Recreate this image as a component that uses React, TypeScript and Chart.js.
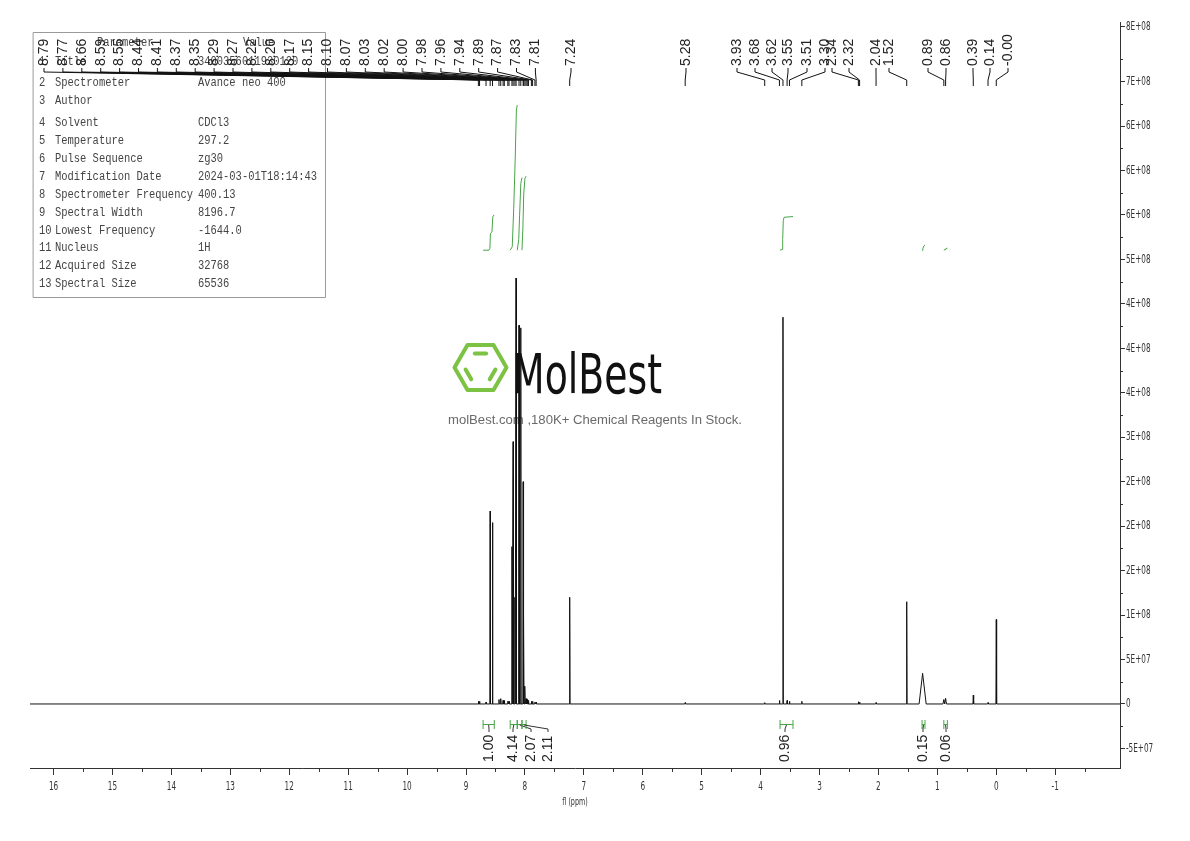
import React, { useEffect, useRef } from 'react';
import { Chart, registerables } from 'chart.js';
Chart.register(...registerables);

// ---------------- data ----------------
const ppmMin = -2.1;
const ppmMax = 16.4;
const xTickValues = [16, 15, 14, 13, 12, 11, 10, 9, 8, 7, 6, 5, 4, 3, 2, 1, 0, -1];
const xTickLabels = ['16', '15', '14', '13', '12', '11', '10', '9', '8', '7', '6', '5', '4', '3', '2', '1', '0', '-1'];
const xMinorTicks = [15.5, 14.5, 13.5, 12.5, 11.5, 10.5, 9.5, 8.5, 7.5, 6.5, 5.5, 4.5, 3.5, 2.5, 1.5, 0.5, -0.5, -1.5];
const xTitle = 'fl (ppm)';

const yMin = -7.2e7;
const yMax = 7.67e8;
const yTickValues = [-5e7, 0, 5e7, 1e8, 1.5e8, 2e8, 2.5e8, 3e8, 3.5e8, 4e8, 4.5e8, 5e8, 5.5e8, 6e8, 6.5e8, 7e8, 7.62e8];
const yTickLabels = ['-5E+07', '0', '5E+07', '1E+08', '2E+08', '2E+08', '2E+08', '3E+08', '4E+08', '4E+08', '4E+08', '5E+08', '6E+08', '6E+08', '6E+08', '7E+08', '8E+08'];
const yMinorTicks = [-2.5e7, 2.5e7, 7.5e7, 1.25e8, 1.75e8, 2.25e8, 2.75e8, 3.25e8, 3.75e8, 4.25e8, 4.75e8, 5.25e8, 5.75e8, 6.25e8, 6.75e8, 7.25e8];

// spectrum peaks (ppm, intensity, half width in ppm)
const peakPpm = [8.79, 8.77, 8.66, 8.59, 8.55, 8.44, 8.41, 8.37, 8.35, 8.29, 8.27, 8.22, 8.20, 8.17, 8.15, 8.10, 8.07, 8.03, 8.02, 8.00, 7.98, 7.96, 7.94, 7.89, 7.87, 7.83, 7.81, 7.24, 5.28, 3.93, 3.68, 3.62, 3.55, 3.51, 3.30, 2.34, 2.32, 2.04, 1.52, 1.25, 0.89, 0.86, 0.39, 0.14, 0.00];
const peakHeight = [3e6, 3e6, 2e6, 2.17e8, 2.04e8, 5e6, 6e6, 4e6, 4e6, 3e6, 3e6, 1.77e8, 2.95e8, 1.2e8, 4.79e8, 4.26e8, 4.23e8, 2.5e8, 1.0e8, 2.0e7, 6e6, 5e6, 4e6, 3e6, 3e6, 2e6, 2e6, 1.2e8, 1.5e6, 1.5e6, 4e6, 4.35e8, 4e6, 3e6, 3e6, 2.5e6, 2e6, 1.5e6, 1.15e8, 3.45e7, 5e6, 6.4e6, 1.0e7, 1.5e6, 9.5e7];
const peakHalfWidth = [0.005, 0.005, 0.005, 0.005, 0.005, 0.005, 0.005, 0.005, 0.005, 0.005, 0.005, 0.005, 0.005, 0.005, 0.005, 0.005, 0.005, 0.005, 0.005, 0.005, 0.005, 0.005, 0.005, 0.005, 0.005, 0.005, 0.005, 0.006, 0.006, 0.006, 0.006, 0.006, 0.006, 0.006, 0.006, 0.006, 0.006, 0.006, 0.006, 0.06, 0.015, 0.015, 0.006, 0.006, 0.006];

// peak labels
const peakLabels = ['8.79', '8.77', '8.66', '8.59', '8.55', '8.44', '8.41', '8.37', '8.35', '8.29', '8.27', '8.22', '8.20', '8.17', '8.15', '8.10', '8.07', '8.03', '8.02', '8.00', '7.98', '7.96', '7.94', '7.89', '7.87', '7.83', '7.81', '7.24', '5.28', '3.93', '3.68', '3.62', '3.55', '3.51', '3.30', '2.34', '2.32', '2.04', '1.52', '0.89', '0.86', '0.39', '0.14', '-0.00'];
const peakLabelPpm = [8.79, 8.77, 8.66, 8.59, 8.55, 8.44, 8.41, 8.37, 8.35, 8.29, 8.27, 8.22, 8.20, 8.17, 8.15, 8.10, 8.07, 8.03, 8.02, 8.00, 7.98, 7.96, 7.94, 7.89, 7.87, 7.83, 7.81, 7.24, 5.28, 3.93, 3.68, 3.62, 3.55, 3.51, 3.30, 2.34, 2.32, 2.04, 1.52, 0.89, 0.86, 0.39, 0.14, 0.00];

// integrals
const integralLabels = ['1.00', '4.14', '2.07', '2.11', '0.96', '0.15', '0.06'];
const integralFrom = [8.71, 8.25, 8.13, 8.05, 3.67, 1.26, 0.89];
const integralTo = [8.52, 8.13, 8.05, 7.98, 3.45, 1.21, 0.83];
const integralCurvePpm = [
  [8.71, 8.61, 8.595, 8.585, 8.56, 8.545, 8.53, 8.52],
  [8.25, 8.215, 8.19, 8.165, 8.145, 8.13],
  [8.13, 8.105, 8.09, 8.07, 8.05],
  [8.05, 8.035, 8.02, 8.0, 7.98],
  [3.67, 3.635, 3.625, 3.615, 3.6, 3.45],
  [1.26, 1.245, 1.23, 1.21],
  [0.89, 0.87, 0.855, 0.83],
];
const integralCurveVal = [
  [0, 0, 0.05, 0.48, 0.52, 0.95, 1.0, 1.0],
  [0, 0.1, 1.2, 2.6, 4.0, 4.14],
  [0, 0.3, 1.0, 1.9, 2.07],
  [0, 0.6, 1.6, 2.05, 2.11],
  [0, 0.02, 0.3, 0.85, 0.94, 0.96],
  [0, 0.05, 0.12, 0.15],
  [0, 0.02, 0.045, 0.06],
];

// parameter table
const paramHeader = ['Parameter', 'Value'];
const paramNumbers = ['1', '2', '3', '4', '5', '6', '7', '8', '9', '10', '11', '12', '13'];
const paramNames = ['Title', 'Spectrometer', 'Author', 'Solvent', 'Temperature', 'Pulse Sequence', 'Modification Date', 'Spectrometer Frequency', 'Spectral Width', 'Lowest Frequency', 'Nucleus', 'Acquired Size', 'Spectral Size'];
const paramValues = ['3400356011930120', 'Avance neo 400', '', 'CDCl3', '297.2', 'zg30', '2024-03-01T18:14:43', '400.13', '8196.7', '-1644.0', '1H', '32768', '65536'];

const watermarkTitle = 'MolBest';
const watermarkSubtitle = 'molBest.com ,180K+ Chemical Reagents In Stock.';

// ---------------- layout (pixels) ----------------
const peakLabelX = [44, 62.9, 81.8, 100.7, 119.6, 138.5, 157.4, 176.3, 195.2, 214.1, 233, 251.9, 270.8, 289.7, 308.6, 327.5, 346.4, 365.3, 384.2, 403.1, 422, 440.9, 459.8, 478.7, 497.6, 516.5, 535.4, 571, 686, 737, 755, 772, 788, 807, 825, 832, 849, 876, 889, 928, 946, 973, 990, 1008];
const integralLabelX = [489, 513, 531, 548, 785, 923, 946];
const tableRowY = [62, 83, 101, 123, 141, 159, 177, 195, 213, 231, 248, 266, 284];

const SANS = "'DejaVu Sans', sans-serif";
const GREEN = '#47a447';
const AXIS = '#333';

function buildSpectrum() {
  const pts: { x: number; y: number }[] = [{ x: ppmMax, y: 0 }];
  for (let i = 0; i < peakPpm.length; i++) {
    pts.push({ x: peakPpm[i] + peakHalfWidth[i], y: 0 });
    pts.push({ x: peakPpm[i], y: peakHeight[i] });
    pts.push({ x: peakPpm[i] - peakHalfWidth[i], y: 0 });
  }
  pts.push({ x: ppmMin, y: 0 });
  return pts;
}

function drawScaledText(ctx: CanvasRenderingContext2D, text: string, x: number, y: number, sx: number) {
  ctx.save();
  ctx.translate(x, y);
  ctx.scale(sx, 1);
  ctx.fillText(text, 0, 0);
  ctx.restore();
}

const annotPlugin = {
  id: 'annot',
  beforeDatasetsDraw(chart: any) {
    const ctx: CanvasRenderingContext2D = chart.ctx;
    ctx.save();
    // ---- watermark ----
    const cx = 480.5, cy = 367.5, r = 26, h = 22.5;
    const hex = [[cx - r, cy], [cx - r / 2, cy - h], [cx + r / 2, cy - h], [cx + r, cy], [cx + r / 2, cy + h], [cx - r / 2, cy + h]];
    ctx.strokeStyle = '#7cc243';
    ctx.lineWidth = 4;
    ctx.lineJoin = 'round';
    ctx.lineCap = 'round';
    ctx.beginPath();
    hex.forEach((p, i) => (i === 0 ? ctx.moveTo(p[0], p[1]) : ctx.lineTo(p[0], p[1])));
    ctx.closePath();
    ctx.stroke();
    const inner = [[1, 2], [3, 4], [5, 0]];
    inner.forEach(([a, b]) => {
      const f = 0.62;
      const ax = cx + (hex[a][0] - cx) * f, ay = cy + (hex[a][1] - cy) * f;
      const bx = cx + (hex[b][0] - cx) * f, by = cy + (hex[b][1] - cy) * f;
      const s = 0.15;
      ctx.beginPath();
      ctx.moveTo(ax + (bx - ax) * s, ay + (by - ay) * s);
      ctx.lineTo(bx - (bx - ax) * s, by - (by - ay) * s);
      ctx.stroke();
    });
    ctx.fillStyle = '#111';
    ctx.font = `56px ${SANS}`;
    ctx.textBaseline = 'alphabetic';
    ctx.textAlign = 'left';
    const mw = ctx.measureText(watermarkTitle).width;
    drawScaledText(ctx, watermarkTitle, 512, 393, 150 / mw);
    ctx.fillStyle = '#6a6a6a';
    ctx.font = "12px 'Liberation Sans', Arial, sans-serif";
    ctx.textBaseline = 'middle';
    const sw = ctx.measureText(watermarkSubtitle).width;
    drawScaledText(ctx, watermarkSubtitle, 448, 421, 294 / sw);

    // ---- parameter table ----
    ctx.strokeStyle = '#9a9a9a';
    ctx.lineWidth = 1;
    ctx.strokeRect(33.5, 32.5, 292, 265);
    ctx.fillStyle = '#444';
    ctx.font = "12px 'Liberation Mono', monospace";
    ctx.textBaseline = 'middle';
    const sx = 6.27 / ctx.measureText('M').width;
    drawScaledText(ctx, paramHeader[0], 97, 43, sx);
    drawScaledText(ctx, paramHeader[1], 243, 43, sx);
    for (let i = 0; i < paramNames.length; i++) {
      const y = tableRowY[i];
      drawScaledText(ctx, paramNumbers[i], 39, y, sx);
      drawScaledText(ctx, paramNames[i], 55, y, sx);
      drawScaledText(ctx, paramValues[i], 198, y, sx);
    }
    ctx.restore();
  },
  afterDraw(chart: any) {
    const ctx: CanvasRenderingContext2D = chart.ctx;
    const xs = chart.scales.x;
    const ys = chart.scales.y;
    const ca = chart.chartArea;
    ctx.save();
    // minor ticks
    ctx.strokeStyle = AXIS;
    ctx.lineWidth = 1;
    ctx.beginPath();
    xMinorTicks.forEach((v) => {
      const px = Math.round(xs.getPixelForValue(v)) + 0.5;
      ctx.moveTo(px, ca.bottom);
      ctx.lineTo(px, ca.bottom + 4);
    });
    yMinorTicks.forEach((v) => {
      const py = Math.round(ys.getPixelForValue(v)) + 0.5;
      ctx.moveTo(ca.right, py);
      ctx.lineTo(ca.right + 3, py);
    });
    ctx.stroke();

    // axis tick labels (condensed)
    ctx.fillStyle = AXIS;
    ctx.font = `13px ${SANS}`;
    ctx.textBaseline = 'middle';
    ctx.textAlign = 'left';
    xs.ticks.forEach((t: any) => {
      const i = xTickValues.indexOf(t.value);
      if (i < 0) return;
      const px = xs.getPixelForValue(t.value);
      const w = ctx.measureText(xTickLabels[i]).width * 0.56;
      drawScaledText(ctx, xTickLabels[i], px - w / 2, ca.bottom + 19, 0.56);
    });
    ctx.font = `12.5px ${SANS}`;
    ys.ticks.forEach((t: any) => {
      const i = yTickValues.indexOf(t.value);
      if (i < 0) return;
      const py = ys.getPixelForValue(t.value);
      drawScaledText(ctx, yTickLabels[i], ca.right + 6, py, 0.58);
    });
    ctx.font = `11px ${SANS}`;
    const tw = ctx.measureText(xTitle).width * 0.58;
    drawScaledText(ctx, xTitle, (ca.left + ca.right) / 2 - tw / 2, ca.bottom + 34, 0.58);

    // peak labels
    ctx.font = "14px 'Liberation Sans', Arial, sans-serif";
    ctx.fillStyle = '#222';
    ctx.textBaseline = 'middle';
    ctx.textAlign = 'left';
    ctx.strokeStyle = '#111';
    for (let i = 0; i < peakLabels.length; i++) {
      const lx = peakLabelX[i];
      const px = xs.getPixelForValue(peakLabelPpm[i]);
      ctx.save();
      ctx.translate(lx, 66);
      ctx.rotate(-Math.PI / 2);
      ctx.fillText(peakLabels[i], 0, 0);
      ctx.restore();
      ctx.beginPath();
      ctx.moveTo(lx, 68);
      ctx.lineTo(lx, 72);
      ctx.lineTo(px, 80);
      ctx.lineTo(px, 86);
      ctx.stroke();
    }

    // integral labels
    for (let i = 0; i < integralLabels.length; i++) {
      const a = xs.getPixelForValue(integralFrom[i]);
      const b = xs.getPixelForValue(integralTo[i]);
      const m = (a + b) / 2;
      const lx = integralLabelX[i];
      ctx.strokeStyle = GREEN;
      ctx.beginPath();
      ctx.moveTo(a, 724.5);
      ctx.lineTo(b, 724.5);
      ctx.moveTo(a, 720);
      ctx.lineTo(a, 729);
      ctx.moveTo(b, 720);
      ctx.lineTo(b, 729);
      ctx.stroke();
      ctx.strokeStyle = '#333';
      ctx.beginPath();
      ctx.moveTo(m, 725);
      ctx.lineTo(lx, 729);
      ctx.lineTo(lx, 732);
      ctx.stroke();
      ctx.fillStyle = '#222';
      ctx.save();
      ctx.translate(lx, 762);
      ctx.rotate(-Math.PI / 2);
      ctx.fillText(integralLabels[i], 0, 0);
      ctx.restore();
    }
    ctx.restore();
  },
};

export default function App() {
  const ref = useRef<HTMLCanvasElement | null>(null);
  useEffect(() => {
    if (!ref.current) return;
    const datasets: any[] = [
      {
        data: buildSpectrum(),
        borderColor: '#111',
        borderWidth: 1,
        pointRadius: 0,
        tension: 0,
        yAxisID: 'y',
      },
    ];
    integralCurvePpm.forEach((pp, k) => {
      datasets.push({
        data: pp.map((x, j) => ({ x, y: integralCurveVal[k][j] })),
        borderColor: GREEN,
        borderWidth: 1,
        pointRadius: 0,
        tension: 0,
        yAxisID: 'yi',
      });
    });
    const chart = new Chart(ref.current, {
      type: 'line',
      data: { datasets },
      options: {
        animation: false,
        responsive: false,
        devicePixelRatio: 1,
        plugins: { legend: { display: false }, tooltip: { enabled: false } },
        layout: { padding: { left: 30, top: 22, right: 0, bottom: 0 } },
        scales: {
          x: {
            type: 'linear',
            reverse: true,
            min: ppmMin,
            max: ppmMax,
            afterBuildTicks: (axis: any) => {
              axis.ticks = xTickValues.map((v) => ({ value: v }));
            },
            afterFit: (s: any) => {
              s.height = 73;
            },
            grid: { drawOnChartArea: false, tickLength: 7, color: AXIS },
            border: { display: true, color: AXIS, width: 1 },
            ticks: { display: false, autoSkip: false },
          },
          y: {
            type: 'linear',
            position: 'right',
            min: yMin,
            max: yMax,
            afterBuildTicks: (axis: any) => {
              axis.ticks = yTickValues.map((v) => ({ value: v }));
            },
            afterFit: (s: any) => {
              s.width = 70;
            },
            grid: { drawOnChartArea: false, tickLength: 5, color: AXIS },
            border: { display: true, color: AXIS, width: 1 },
            ticks: { display: false, autoSkip: false },
          },
          yi: { type: 'linear', display: false, min: -14.77, max: 6.51 },
        },
      } as any,
      plugins: [annotPlugin],
    });
    return () => chart.destroy();
  }, []);
  return (
    <div style={{ position: 'absolute', left: 0, top: 0, width: 1190, height: 841, background: '#fff' }}>
      <canvas ref={ref} width={1190} height={841} />
    </div>
  );
}
